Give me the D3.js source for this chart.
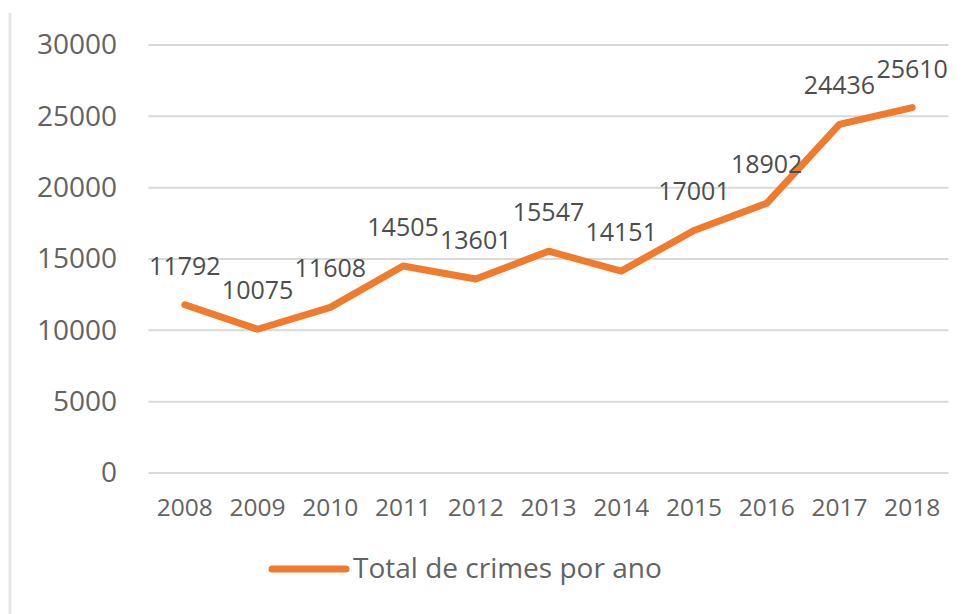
<!DOCTYPE html>
<html>
<head>
<meta charset="utf-8">
<script src="https://cdn.jsdelivr.net/npm/d3@7"></script>
<style>
  html, body { margin: 0; padding: 0; background: #fff; }
  svg { display: block; font-family: "Open Sans", sans-serif; }
</style>
</head>
<body>
<svg id="chart" width="972" height="614"></svg>
<script>
// Total crimes per year
const years = ["2008", "2009", "2010", "2011", "2012", "2013", "2014", "2015", "2016", "2017", "2018"];
const totals = [11792, 10075, 11608, 14505, 13601, 15547, 14151, 17001, 18902, 24436, 25610];
const yTicks = [0, 5000, 10000, 15000, 20000, 25000, 30000];
const seriesName = "Total de crimes por ano";

const svg = d3.select("#chart");
const plotLeft = 148.5, plotRight = 948.5, plotTop = 45, plotBottom = 473;

const x = d3.scaleBand().domain(years).range([plotLeft, plotRight]);
const y = d3.scaleLinear().domain([0, 30000]).range([plotBottom, plotTop]);

// frame edge on the left
svg.append("line")
  .attr("x1", 10).attr("x2", 10).attr("y1", 13).attr("y2", 614)
  .attr("stroke", "#e6e6e6").attr("stroke-width", 3);

// gridlines
svg.append("g")
  .selectAll("line").data(yTicks).join("line")
  .attr("x1", plotLeft).attr("x2", plotRight)
  .attr("y1", d => y(d)).attr("y2", d => y(d))
  .attr("stroke", "#d9d9d9").attr("stroke-width", 2);

// y axis labels
const yAxis = svg.append("g")
  .attr("transform", `translate(117,0)`)
  .call(d3.axisLeft(y).tickValues(yTicks).tickSize(0).tickPadding(0).tickFormat(d3.format("d")));
yAxis.select(".domain").remove();
yAxis.selectAll("text")
  .attr("fill", "#636363")
  .style("font-size", "28px")
  .style("font-family", "'Open Sans', sans-serif");

// x axis labels
const xAxis = svg.append("g")
  .attr("transform", `translate(0,${plotBottom})`)
  .call(d3.axisBottom(x).tickSize(0).tickPadding(26));
xAxis.select(".domain").remove();
xAxis.selectAll("text")
  .attr("fill", "#636363")
  .style("font-size", "24.5px")
  .style("font-family", "'Open Sans', sans-serif");

// series line
const pts = years.map((yr, i) => [x(yr) + x.bandwidth() / 2, y(totals[i])]);
svg.append("path")
  .attr("d", d3.line()(pts))
  .attr("fill", "none")
  .attr("stroke", "#F07B2C")
  .attr("stroke-width", 7)
  .attr("stroke-linejoin", "round")
  .attr("stroke-linecap", "round");

// value labels
svg.append("g")
  .selectAll("text").data(totals).join("text")
  .attr("x", (d, i) => pts[i][0])
  .attr("y", (d, i) => pts[i][1] - 30)
  .attr("text-anchor", "middle")
  .attr("fill", "#4d4d4d")
  .style("font-size", "25px")
  .text(d => d);

// legend
const lg = svg.append("g");
lg.append("line")
  .attr("x1", 272).attr("x2", 346).attr("y1", 569).attr("y2", 569)
  .attr("stroke", "#F07B2C").attr("stroke-width", 7).attr("stroke-linecap", "round");
lg.append("text")
  .attr("x", 353).attr("y", 578)
  .attr("fill", "#636363")
  .style("font-size", "28px")
  .text(seriesName);
</script>
</body>
</html>
